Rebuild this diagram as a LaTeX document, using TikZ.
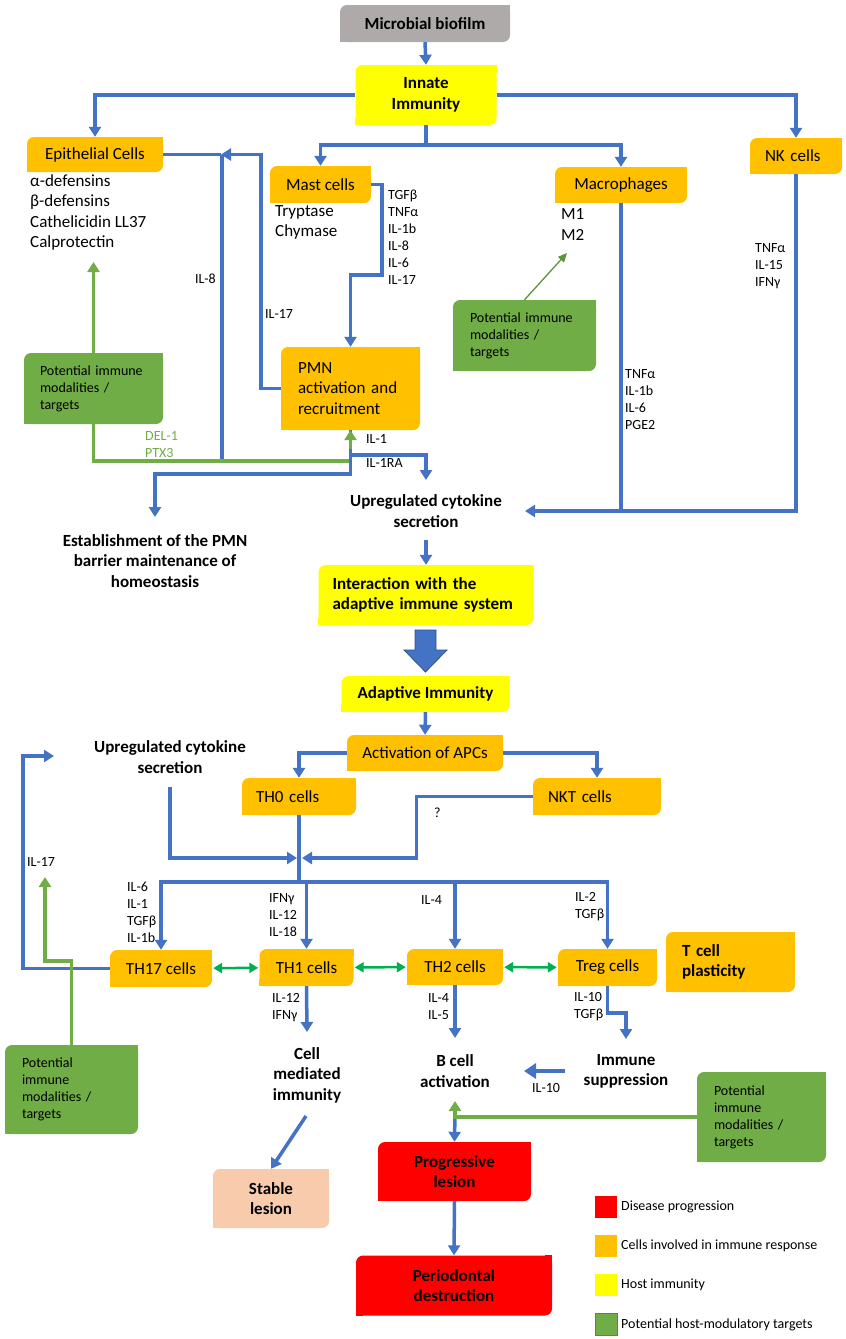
\documentclass[tikz,border=0pt]{standalone}
\usepackage{fontspec}
\setmainfont{Carlito}
\usetikzlibrary{arrows.meta}
\definecolor{cblue}{HTML}{4472C4}
\definecolor{corange}{HTML}{FFC000}
\definecolor{cyellow}{HTML}{FFFF00}
\definecolor{cgreen}{HTML}{70AD47}
\definecolor{cred}{HTML}{FF0000}
\definecolor{cgrey}{HTML}{AEAAAA}
\definecolor{cpeach}{HTML}{F8CBAD}
\definecolor{cdbl}{HTML}{00B050}
\newcommand\mfont{\fontsize{17}{20.5}\selectfont}
\newcommand\sfont{\fontsize{14}{17}\selectfont}
\begin{document}
\begin{tikzpicture}[x=1pt,y=-1pt,
  bx/.style={rectangle, rounded corners=7pt, inner sep=0pt, align=center, font=\mfont},
  ob/.style={bx, fill=corange},
  yb/.style={bx, fill=cyellow, font=\bfseries\mfont},
  gb/.style={bx, fill=cgreen, font=\sfont, align=left},
  rb/.style={bx, fill=cred, font=\bfseries\mfont},
  txt/.style={inner sep=0pt, align=left, font=\mfont, anchor=west},
  btxt/.style={inner sep=0pt, align=center, font=\bfseries\mfont},
  lab/.style={inner sep=0pt, align=left, font=\sfont, anchor=west},
  bl/.style={draw=cblue, line width=3.5pt},
  ba/.style={bl, -{Triangle[width=12pt,length=10pt]}},
  gl/.style={draw=cgreen, line width=3.5pt},
  ga/.style={gl, -{Triangle[width=12pt,length=10pt]}},
  gt/.style={draw=cgreen!85!black, line width=1.3pt, -{Triangle[width=8pt,length=9pt]}},
  da/.style={draw=cdbl, line width=2.5pt, {Triangle[width=10pt,length=9pt]}-{Triangle[width=10pt,length=9pt]}, shorten <=1pt, shorten >=1pt},
  lg/.style={rectangle, minimum width=22pt, minimum height=22pt, inner sep=0pt}
]
\useasboundingbox (0,0) rectangle (846,1339);
\fill[white] (0,0) rectangle (846,1339);

% ---------- boxes ----------
\node[bx, fill=cgrey, minimum width=170pt, minimum height=37pt, font=\bfseries\mfont] (bio) at (425,23.5) {Microbial biofilm};
\node[yb, minimum width=141pt, minimum height=60pt] (innate) at (426,95) {Innate\\Immunity};
\node[ob, minimum width=136pt, minimum height=35pt] (epi) at (95,154.5) {Epithelial Cells};
\node[ob, minimum width=101pt, minimum height=37pt] (mast) at (320.5,184.5) {Mast cells};
\node[ob, minimum width=132pt, minimum height=36pt] (macro) at (621,185) {Macrophages};
\node[ob, text width=62pt, inner xsep=15pt, align=left, minimum height=36pt] (nk) at (796,156) {NK cells};
\node[ob, text width=105pt, inner xsep=17pt, align=left, minimum height=83pt] (pmn) at (350.5,388.5) {PMN\\activation and\\recruitment};
\node[gb, text width=107pt, inner xsep=16pt, minimum height=71pt] (g1) at (93.5,388.5) {Potential immune\\modalities /\\targets};
\node[gb, text width=109pt, inner xsep=17pt, minimum height=71pt] (g2) at (524.5,335.5) {Potential immune\\modalities /\\targets};
\node[yb, text width=187pt, inner xsep=14pt, align=left, minimum height=60pt] (inter) at (426,595) {Interaction with the\\adaptive immune system};
\node[yb, minimum width=168pt, minimum height=36pt] (adaptive) at (425.5,694) {Adaptive Immunity};
\node[ob, minimum width=156pt, minimum height=36pt] (apc) at (425,753) {Activation of APCs};
\node[ob, text width=86pt, inner xsep=14pt, align=left, minimum height=37pt] (th0) at (299,796.5) {TH0 cells};
\node[ob, text width=98pt, inner xsep=15pt, align=left, minimum height=37pt] (nkt) at (597,796.5) {NKT cells};
\node[ob, minimum width=102pt, minimum height=37pt] (th17) at (161,968.5) {TH17 cells};
\node[ob, minimum width=94pt, minimum height=37pt] (th1) at (306.5,967.5) {TH1 cells};
\node[ob, minimum width=96pt, minimum height=36pt] (th2) at (455,967) {TH2 cells};
\node[ob, minimum width=99pt, minimum height=37pt] (treg) at (607.5,967.5) {Treg cells};
\node[ob, font=\bfseries\mfont, text width=97pt, inner xsep=16pt, align=left, minimum height=60pt] (plast) at (730.5,962) {T cell\\plasticity};
\node[gb, text width=99pt, inner xsep=17pt, minimum height=89pt] (g3) at (71.5,1089.5) {Potential\\immune\\modalities /\\targets};
\node[gb, text width=95pt, inner xsep=17pt, minimum height=90pt] (g4) at (761.5,1117) {Potential\\immune\\modalities /\\targets};
\node[bx, fill=cpeach, font=\bfseries\mfont, minimum width=116pt, minimum height=59pt] (stable) at (271,1198.5) {Stable\\lesion};
\node[rb, minimum width=153pt, minimum height=59pt] (prog) at (454.5,1171.5) {Progressive\\lesion};
\node[rb, minimum width=196pt, minimum height=60pt] (peri) at (454,1285.5) {Periodontal\\destruction};

% square off top-right and bottom-left corners
\foreach \n/\c in {bio/cgrey, innate/cyellow, epi/corange, mast/corange, macro/corange, nk/corange, pmn/corange, g1/cgreen, g2/cgreen, inter/cyellow, adaptive/cyellow, apc/corange, th0/corange, nkt/corange, th17/corange, th1/corange, th2/corange, treg/corange, plast/corange, g3/cgreen, g4/cgreen, stable/cpeach, prog/cred, peri/cred}{
  \fill[\c] (\n.north east) rectangle ++(-7.5pt,-7.5pt);
  \fill[\c] (\n.south west) rectangle ++(7.5pt,7.5pt);
}

% ---------- free texts ----------
\node[txt] (epilist) at (30,212.5) {α-defensins\\β-defensins\\Cathelicidin LL37\\Calprotectin};
\node[txt] (mastlist) at (275,222.5) {Tryptase\\Chymase};
\node[lab] (mastlab) at (388,237) {TGFβ\\TNFα\\IL-1b\\IL-8\\IL-6\\IL-17};
\node[txt] (macrolist) at (561,224.5) {M1\\M2};
\node[lab] (nklab) at (755,266) {TNFα\\IL-15\\IFNγ};
\node[lab] (macrolab) at (625,399.5) {TNFα\\IL-1b\\IL-6\\PGE2};
\node[lab, anchor=east] (il8) at (216,279) {IL-8};
\node[lab] (il17a) at (265,314) {IL-17};
\node[lab, text=cgreen] (delptx) at (145,444.5) {DEL-1\\PTX3};
\node[lab] (il1) at (366,439) {IL-1};
\node[lab] (il1ra) at (366,463) {IL-1RA};
\node[btxt] (estab) at (155,561) {Establishment of the PMN\\barrier maintenance of\\homeostasis};
\node[btxt] (upreg1) at (426,511) {Upregulated cytokine\\secretion};
\node[btxt] (upreg2) at (170,757) {Upregulated cytokine\\secretion};
\node[lab] (qm) at (434,813) {?};
\node[lab] (il17b) at (27,862) {IL-17};
\node[lab] (th17lab) at (127,912.5) {IL-6\\IL-1\\TGFβ\\IL-1b};
\node[lab] (th1lab) at (269,915) {IFNγ\\IL-12\\IL-18};
\node[lab] (th2lab) at (421,900) {IL-4};
\node[lab] (treglab) at (575,906.5) {IL-2\\TGFβ};
\node[lab] (th1out) at (272,1007.5) {IL-12\\IFNγ};
\node[lab] (th2out) at (428,1006.5) {IL-4\\IL-5};
\node[lab] (tregout) at (574,1006.5) {IL-10\\TGFβ};
\node[btxt] (cmi) at (307,1075) {Cell\\mediated\\immunity};
\node[btxt] (bcell) at (455,1071) {B cell\\activation};
\node[btxt] (isup) at (626,1071.5) {Immune\\suppression};
\node[lab] (il10) at (532,1088) {IL-10};

% ---------- legend ----------
\node[lg, fill=cred] (lg1) at (606,1207) {};
\node[lg, fill=corange] (lg2) at (606,1246) {};
\node[lg, fill=cyellow] (lg3) at (606,1285) {};
\node[lg, fill=cgreen, draw=cgreen!80!black, line width=0.6pt] (lg4) at (606,1324) {};
\node[lab] (lt1) at (621,1207) {Disease progression};
\node[lab] (lt2) at (621,1246) {Cells involved in immune response};
\node[lab] (lt3) at (621,1285) {Host immunity};
\node[lab] (lt4) at (621,1325) {Potential host-modulatory targets};

% ---------- coordinates ----------
\coordinate (split1) at (426,145);
\coordinate (mastbend) at (382,275);
\coordinate (epiturn) at (261,154.5);
\coordinate (epitip) at (221,154.5);
\coordinate (il8top) at (222,154.5);
\coordinate (il8bot) at (222,461);
\coordinate (calp) at (93.5,262);
\coordinate (gj) at (350.5,461);
\coordinate (gjup) at (350.5,449);
\coordinate (pmnlow) at (350.5,474);
\coordinate (pmnmid) at (350.5,455);
\coordinate (estabtop) at (155,517);
\coordinate (up1top) at (426,480);
\coordinate (up1right) at (525,511);
\coordinate (macrolow) at (621,511);
\coordinate (up1bot) at (426,540);
\coordinate (m2tip) at (567,253);
\coordinate (nktb) at (416.5,858);
\coordinate (mergeR) at (302,858);
\coordinate (mergeL) at (297,858);
\coordinate (up2bot) at (170,787);
\coordinate (split2) at (299,882);
\coordinate (il17turn) at (23,756);
\coordinate (il17tip) at (54,756);
\coordinate (g3turn) at (45,961);
\coordinate (g3tip) at (45,877);
\coordinate (cmtop) at (307,1032);
\coordinate (cmbot) at (306,1116);
\coordinate (bctop) at (455,1038);
\coordinate (isleft) at (565,1071);
\coordinate (bcright) at (524,1071);
\coordinate (tregbend) at (626,1013);
\coordinate (istop) at (626,1039);
\coordinate (bcbot) at (455,1112);
\coordinate (g4tip) at (455,1101);

% ---------- connectors: innate ----------
\draw[ba] (bio.south) -- (innate.north);
\draw[ba] (innate.west) -| (epi.north);
\draw[ba] (innate.east) -| (nk.north);
\draw[bl] (innate.south) -- (split1);
\draw[ba] (split1) -| (mast.north);
\draw[ba] (split1) -| (macro.north);
\draw[ba] (mast.east) -| (mastbend) -| (pmn.north);
\draw[ba] (pmn.west) -| (epiturn) -- (epitip);
\draw[bl] (epitip) -- (epi.east);
\draw[bl] (il8bot) -- (il8top);
\draw[gt] (g2.north) -- (m2tip);
\draw[ga] (g1.north) -- (calp);
\draw[gl] (g1.south) |- (gj);
\draw[ba] (pmn.south) -- (pmnlow) -| (estabtop);
\draw[ba] (pmnmid) -| (up1top);
\draw[ga] (gjup) -- (pmn.south);
\draw[ba] (nk.south) |- (up1right);
\draw[bl] (macro.south) -- (macrolow);
\draw[ba] (up1bot) -- (inter.north);

% big arrow
\filldraw[fill=cblue, draw=cblue!70!black, line width=0.8pt]
  (415,630) -- (436,630) -- (436,650) -- (447,650) -- (425.5,672) -- (404,650) -- (415,650) -- cycle;

% ---------- connectors: adaptive ----------
\draw[ba] (adaptive.south) -- (apc.north);
\draw[ba] (apc.west) -| (th0.north);
\draw[ba] (apc.east) -| (nkt.north);
\draw[ba] (nkt.west) -| (nktb) -- (mergeR);
\draw[ba] (up2bot) |- (mergeL);
\draw[bl] (th0.south) -- (split2);
\draw[ba] (split2) -| (th17.north);
\draw[ba] (split2) -| (th1.north);
\draw[ba] (split2) -| (th2.north);
\draw[ba] (split2) -| (treg.north);
\draw[ba] (th17.west) -| (il17turn) -- (il17tip);
\draw[ga] (g3.north) |- (g3turn) -- (g3tip);
\draw[da] (th17) -- (th1);
\draw[da] (th1) -- (th2);
\draw[da] (th2) -- (treg);
\draw[ba] (th1.south) -- (cmtop);
\draw[ba] (cmbot) -- (stable.north);
\draw[ba] (th2.south) -- (bctop);
\draw[draw=cblue, line width=4.5pt, -{Triangle[width=15pt,length=12pt]}] (isleft) -- (bcright);
\draw[ba] (treg.south) |- (tregbend) -- (istop);
\draw[ba] (bcbot) -- (prog.north);
\draw[ga] (g4.west) -| (g4tip);
\draw[ba] (prog.south) -- (peri.north);
\end{tikzpicture}
\end{document}
